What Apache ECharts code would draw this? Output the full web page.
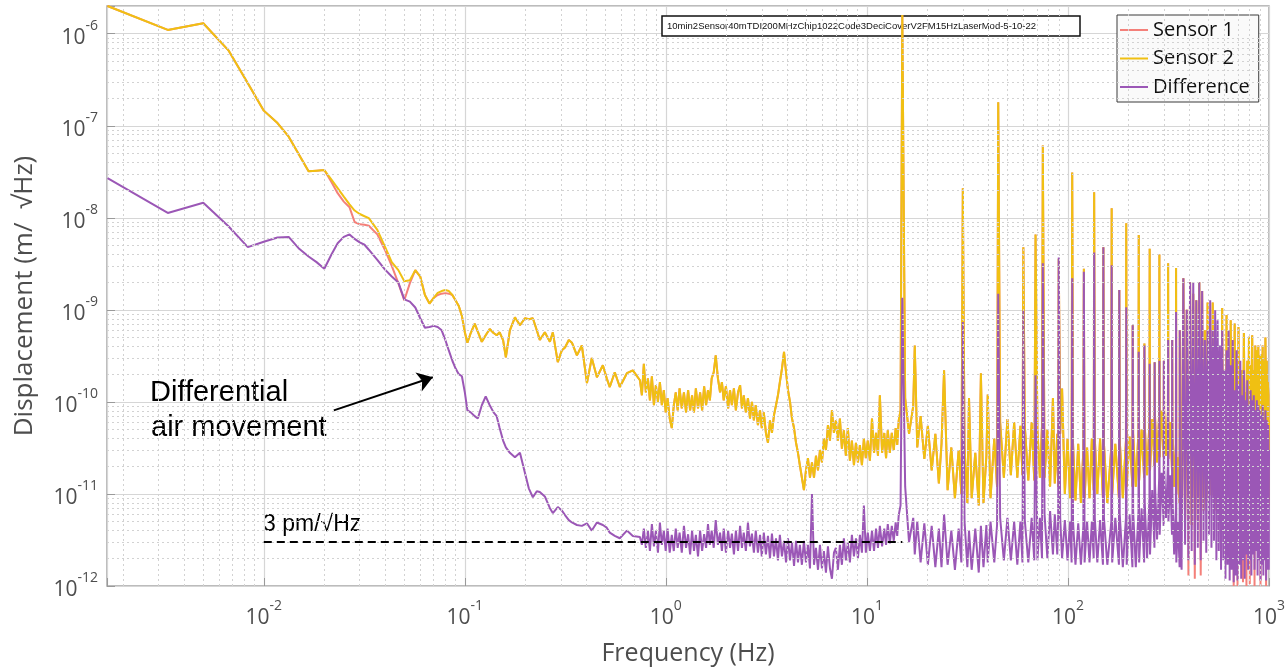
<!DOCTYPE html>
<html lang="en">
<head>
<meta charset="UTF-8">
<title>sensor displacement spectra</title>
<style>
	html, body { margin: 0; padding: 0; background: #fff; }
	#chart { width: 1288px; height: 671px; }
</style>
</head>
<body>
<div id="chart"></div>
<script src="https://cdn.jsdelivr.net/npm/echarts@6/dist/echarts.min.js"></script>
<script>
// frequency bins (Hz), shared by all three traces
var freq = [
	0.00167, 0.00333, 0.005, 0.00667, 0.00833, 0.01, 0.0117, 0.0133, 0.015, 0.0167, 0.0183, 0.02,
	0.0217, 0.0233, 0.025, 0.0267, 0.0283, 0.03, 0.0317, 0.0333, 0.0367, 0.04,
	0.0433, 0.0467, 0.05, 0.0533, 0.0567, 0.06, 0.0633, 0.0667, 0.07, 0.0733,
	0.0767, 0.08, 0.0833, 0.0867, 0.09, 0.0933, 0.0967, 0.1, 0.103,
	0.107, 0.112, 0.116, 0.1215, 0.127, 0.133, 0.139, 0.144, 0.149, 0.155,
	0.16, 0.1675, 0.1775, 0.188, 0.199, 0.208, 0.218, 0.228, 0.236, 0.25,
	0.265, 0.274, 0.29, 0.304, 0.315, 0.329, 0.341, 0.361, 0.382, 0.405,
	0.428, 0.454, 0.486, 0.508, 0.526, 0.557, 0.59, 0.64, 0.685, 0.743,
	0.76, 0.777, 0.795, 0.814, 0.833, 0.852, 0.872, 0.892, 0.913, 0.934,
	0.955, 0.977, 0.998, 1.02, 1.045, 1.07, 1.095, 1.12, 1.145, 1.17,
	1.2, 1.23, 1.26, 1.29, 1.32, 1.35, 1.38, 1.41, 1.445, 1.48,
	1.515, 1.55, 1.585, 1.62, 1.655, 1.69, 1.73, 1.77, 1.815, 1.86,
	1.9, 1.94, 1.99, 2.04, 2.085, 2.13, 2.18, 2.23, 2.285, 2.34,
	2.39, 2.44, 2.5, 2.56, 2.62, 2.68, 2.74, 2.8, 2.87, 2.94,
	3.0, 3.07, 3.145, 3.22, 3.295, 3.37, 3.45, 3.53, 3.61, 3.69,
	3.78, 3.87, 3.96, 4.05, 4.145, 4.24, 4.34, 4.44, 4.54, 4.64,
	4.75, 4.86, 4.975, 5.09, 5.21, 5.33, 5.455, 5.58, 5.71, 5.84,
	5.975, 6.11, 6.255, 6.4, 6.55, 6.7, 6.855, 7.01, 7.175, 7.34,
	7.51, 7.68, 7.86, 8.04, 8.23, 8.42, 8.62, 8.82, 9.025, 9.23,
	9.445, 9.66, 9.88, 10.1, 10.35, 10.6, 10.85, 11.1, 11.35, 11.6,
	11.9, 12.2, 12.45, 12.7, 13.0, 13.3, 13.6, 13.9, 14.15, 14.4,
	14.7,
	15, 15.5, 16.2, 17, 17.3, 17.8, 18.5, 19.3, 20.1, 21,
	21.9, 22.8, 23.5, 24.2, 25.2, 26.3, 27.4, 28.6, 29.5, 30,
	30.6, 31.6, 32.2, 33.2, 34.6, 36, 36.9, 38, 39.3, 39.9,
	41.2, 43, 44.4, 45, 46, 48, 50, 52, 54, 56,
	58, 59.4, 60, 61, 63.5, 66, 68, 69, 70.5, 72.5,
	74.3, 75, 76.5, 79, 81.5, 84.2, 86, 88.5, 89.4, 90,
	91.5, 93.5, 96.5, 99.5, 102.5, 104.3, 105, 106, 109, 112.5,
	116, 119.3, 120, 121, 124.5, 128, 131.5, 134.3, 135, 136,
	140, 144.5, 149.3, 150, 151, 157, 164.3, 165, 166, 172,
	179.3, 180, 181, 187.5, 194.3, 195, 196, 202.5, 209.3, 210,
	211, 217.5, 224.3, 225, 226, 232.5, 239.3, 240, 241, 247.5,
	254.3, 255, 256, 262.5, 269.3, 270, 271, 277.5, 284.3, 285,
	286, 292.5, 299.3, 300, 301, 307.5, 314.3, 315, 316, 322.5,
	329.3, 330, 331, 337.5, 344.3, 345, 346, 352.5, 359.3, 360,
	361, 367.5,
	375, 378.75, 382.5, 386.25, 390, 393.75, 397.5, 401.25,
	405, 408.75, 412.5, 416.25, 420, 423.75, 427.5, 431.25,
	435, 438.75, 442.5, 446.25, 450, 453.75, 457.5, 461.25,
	465, 468.75, 472.5, 476.25, 480, 483.75, 487.5, 491.25,
	495, 498.75, 502.5, 506.25, 510, 513.75, 517.5, 521.25,
	525, 528.75, 532.5, 536.25, 540, 543.75, 547.5, 551.25,
	555, 558.75, 562.5, 566.25, 570, 573.75, 577.5, 581.25,
	585, 588.75, 592.5, 596.25, 600, 603.75, 607.5, 611.25,
	615, 618.75, 622.5, 626.25, 630, 633.75, 637.5, 641.25,
	645, 648.75, 652.5, 656.25, 660, 663.75, 667.5, 671.25,
	675, 678.75, 682.5, 686.25, 690, 693.75, 697.5, 701.25,
	705, 708.75, 712.5, 716.25, 720, 723.75, 727.5, 731.25,
	735, 738.75, 742.5, 746.25, 750, 753.75, 757.5, 761.25,
	765, 768.75, 772.5, 776.25, 780, 783.75, 787.5, 791.25,
	795, 798.75, 802.5, 806.25, 810, 813.75, 817.5, 821.25,
	825, 828.75, 832.5, 836.25, 840, 843.75, 847.5, 851.25,
	855, 858.75, 862.5, 866.25, 870, 873.75, 877.5, 881.25,
	885, 888.75, 892.5, 896.25, 900, 903.75, 907.5, 911.25,
	915, 918.75, 922.5, 926.25, 930, 933.75, 937.5, 941.25,
	945, 948.75, 952.5, 956.25, 960, 963.75, 967.5, 971.25,
	975, 978.75, 982.5, 986.25, 990, 993.75, 997.5, 1000
];

// Sensor 2 amplitude (m/sqrt(Hz))
var sensor2 = [
	2.0e-6, 1.1e-6, 1.3e-6, 6.6e-7, 2.9e-7, 1.46e-7, 1.07e-7, 7.6e-8, 4.8e-8, 3.2e-8, 3.25e-8, 3.3e-8,
	2.6e-8, 2.1e-8, 1.7e-8, 1.4e-8, 1.2e-8, 1.1e-8, 1.04e-8, 9.9e-9, 7.4e-9, 4.9e-9,
	3.3e-9, 2.7e-9, 2.05e-9, 2.1e-9, 2.7e-9, 2.3e-9, 1.45e-9, 1.17e-9, 1.35e-9, 1.53e-9,
	1.6e-9, 1.64e-9, 1.6e-9, 1.45e-9, 1.26e-9, 1.1e-9, 8.6e-10, 5.7e-10, 4.4e-10,
	5.6e-10, 7.1e-10, 5.8e-10, 4.5e-10, 5.3e-10, 6.2e-10, 5.6e-10, 5.3e-10, 5.7e-10, 4.7e-10,
	3.05e-10, 6.0e-10, 8.3e-10, 6.8e-10, 8.1e-10, 7.9e-10, 8.1e-10, 6.0e-10, 4.7e-10, 5.7e-10,
	4.5e-10, 5.7e-10, 2.7e-10, 3.65e-10, 3.9e-10, 4.7e-10, 4.4e-10, 3.2e-10, 4.1e-10, 1.6e-10,
	3.0e-10, 1.85e-10, 2.5e-10, 1.8e-10, 1.45e-10, 2.1e-10, 1.45e-10, 2.05e-10, 2.2e-10, 1.72e-10,
	1.18e-10, 2.6e-10, 1.27e-10, 1.8e-10, 1.04e-10, 1.9e-10, 9.2e-11, 1.52e-10, 1.0e-10, 1.64e-10,
	9.2e-11, 1.34e-10, 7.7e-11, 1.1e-10, 6.6e-11, 5.2e-11, 9.2e-11, 1.27e-10, 8.1e-11, 1.4e-10,
	8.5e-11, 1.27e-10, 7.7e-11, 1.34e-10, 8.1e-11, 1.18e-10, 7.7e-11, 1.4e-10, 8.5e-11, 1.27e-10,
	8.1e-11, 1.48e-10, 9.2e-11, 1.34e-10, 1.04e-10, 1.8e-10, 2.1e-10, 3.2e-10, 1.8e-10, 1.27e-10,
	1.64e-10, 1.04e-10, 1.48e-10, 8.5e-11, 1.34e-10, 9.2e-11, 1.4e-10, 8.1e-11, 1.27e-10, 1.52e-10,
	8.5e-11, 1.18e-10, 7.7e-11, 1.1e-10, 6.6e-11, 1.0e-10, 6.3e-11, 9.2e-11, 5.6e-11, 8.1e-11,
	5.2e-11, 7.7e-11, 4.6e-11, 3.6e-11, 6.3e-11, 4.6e-11, 7.2e-11, 9.2e-11, 1.18e-10, 1.64e-10,
	2.3e-10, 3.5e-10, 2.1e-10, 1.34e-10, 1.0e-10, 6.6e-11, 5.2e-11, 3.6e-11, 2.8e-11, 2.05e-11,
	1.5e-11, 1.1e-11, 1.8e-11, 2.45e-11, 1.5e-11, 2.2e-11, 1.5e-11, 2.6e-11, 1.8e-11, 3.0e-11,
	2.2e-11, 4.0e-11, 3.0e-11, 5.6e-11, 3.8e-11, 8.1e-11, 4.6e-11, 6.3e-11, 3.8e-11, 6.6e-11,
	3.1e-11, 4.9e-11, 2.6e-11, 5.2e-11, 2.3e-11, 3.8e-11, 2.05e-11, 3.6e-11, 2.2e-11, 3.4e-11,
	2.05e-11, 4.0e-11, 2.45e-11, 3.8e-11, 2.3e-11, 6.6e-11, 2.8e-11, 4.6e-11, 2.6e-11, 1.18e-10,
	2.8e-11, 4.6e-11, 2.45e-11, 4.9e-11, 2.8e-11, 4.6e-11, 3.0e-11, 5.2e-11, 3.4e-11, 6.3e-11,
	8.1e-11,
	1.6e-6, 1.1e-10, 4.5e-11, 9e-11, 4.1e-10, 3.2e-11, 7e-11, 2.4e-11, 5.5e-11, 1.8e-11,
	4.5e-11, 1.3e-11, 3.5e-11, 2.2e-10, 1.1e-11, 3.2e-11, 9e-12, 3.0e-11, 1.0e-11, 2.1e-8,
	3.2e-11, 8e-12, 1.1e-10, 9e-12, 2.8e-11, 7.5e-12, 2.05e-10, 8e-12, 2.6e-11, 1.2e-10,
	9e-12, 4.0e-11, 1.2e-11, 1.8e-7, 6e-11, 1.5e-11, 6.5e-11, 1.6e-11, 6e-11, 1.5e-11,
	5.5e-11, 1.6e-11, 4.8e-9, 5.5e-11, 1.4e-11, 6e-11, 1.4e-11, 6.6e-9, 5e-11, 1.5e-11,
	5.5e-11, 6.1e-8, 1.5e-11, 5e-11, 1.2e-11, 1.1e-10, 1.3e-11, 4.5e-11, 1.2e-11, 3.6e-9,
	4.5e-11, 1.4e-10, 1.0e-11, 4e-11, 9e-12, 3.5e-11, 3.1e-8, 3.5e-11, 8.5e-12, 3.5e-11,
	8e-12, 3.0e-11, 2.8e-9, 9e-12, 3.2e-11, 9e-12, 4.0e-11, 1.1e-11, 1.9e-8, 4.0e-11,
	1.0e-11, 4.0e-11, 9e-12, 4.8e-9, 3.5e-11, 8e-12, 3.2e-11, 1.27e-8, 1.0e-11, 3.5e-11,
	9e-12, 1.64e-9, 3.8e-11, 9e-12, 3.8e-11, 8.7e-9, 1.2e-11, 4.2e-11, 1.2e-11, 6.8e-10,
	4.5e-11, 1.2e-11, 4.8e-11, 6.5e-9, 1.4e-11, 5e-11, 1.5e-11, 4.3e-10, 5.5e-11, 1.6e-11,
	6e-11, 4.6e-9, 1.8e-11, 6.5e-11, 2.0e-11, 2.7e-10, 7e-11, 2.2e-11, 7.5e-11, 4.0e-9,
	2.5e-11, 8e-11, 2.5e-11, 2.8e-10, 8e-11, 2.6e-11, 8e-11, 3.2e-9, 2.4e-11, 6e-11,
	1.8e-11, 4.7e-10, 4.5e-11, 1.2e-11, 3.5e-11, 2.85e-9, 1.0e-11, 2.5e-11, 8e-12, 6.0e-10,
	2.0e-11, 6e-12,
	2.2e-9, 3.8e-11, 5.2e-12, 3.0e-11, 1.0e-9, 3.8e-11, 5.9e-12, 3.0e-11,
	2.0e-9, 3.8e-11, 4.6e-12, 3.0e-11, 1.5e-9, 3.8e-11, 6.6e-12, 3.0e-11,
	1.27e-9, 3.8e-11, 5.2e-12, 3.0e-11, 2.0e-9, 3.8e-11, 7.5e-12, 3.0e-11,
	1.6e-9, 3.8e-11, 6.6e-12, 3.0e-11, 6.0e-10, 3.8e-11, 8.5e-12, 3.0e-11,
	1.2e-9, 3.8e-11, 7.5e-12, 3.0e-11, 2.8e-10, 3.8e-11, 9.7e-12, 3.0e-11,
	1.2e-9, 3.8e-11, 8.5e-12, 3.0e-11, 3.65e-10, 3.8e-11, 6.6e-12, 3.0e-11,
	1.72e-10, 3.8e-11, 7.5e-12, 3.0e-11, 2.8e-10, 3.8e-11, 5.2e-12, 3.0e-11,
	1.05e-9, 3.8e-11, 5.9e-12, 3.0e-11, 1.72e-10, 3.8e-11, 4.0e-12, 3.0e-11,
	8.8e-10, 3.8e-11, 5.2e-12, 3.0e-11, 1.34e-10, 3.8e-11, 3.6e-12, 3.0e-11,
	7.7e-10, 3.8e-11, 4.6e-12, 3.0e-11, 2.2e-10, 1.18e-10, 3.1e-12, 1.52e-10,
	7.1e-10, 1.04e-10, 4.0e-12, 1.42e-10, 1.72e-10, 1.34e-10, 2.8e-12, 9.9e-11,
	6.5e-10, 1.52e-10, 5.2e-12, 1.1e-10, 1.34e-10, 1.18e-10, 4.0e-12, 1.72e-10,
	2.2e-10, 1.42e-10, 6.6e-12, 1.04e-10, 5.6e-10, 1.8e-10, 4.6e-12, 1.27e-10,
	1.18e-10, 1.18e-10, 7.5e-12, 1.52e-10, 2.8e-10, 1.64e-10, 5.2e-12, 1.1e-10,
	5.1e-10, 1.34e-10, 6.6e-12, 1.8e-10, 2.5e-10, 1.04e-10, 4.6e-12, 1.52e-10,
	5.3e-10, 1.72e-10, 8.5e-12, 1.18e-10, 2.2e-10, 1.27e-10, 5.9e-12, 1.64e-10,
	4.1e-10, 1.52e-10, 8.5e-12, 1.1e-10, 3.65e-10, 1.8e-10, 6.6e-12, 1.34e-10,
	4.1e-10, 1.18e-10, 9.7e-12, 1.72e-10, 3.2e-10, 1.52e-10, 7.5e-12, 1.1e-10,
	3.3e-10, 1.72e-10, 9.7e-12, 1.27e-10, 4.1e-10, 1.18e-10, 6.6e-12, 1.8e-10,
	2.8e-10, 1.42e-10, 8.5e-12, 1.04e-10, 5.0e-10, 1.95e-10, 5.2e-12, 1.34e-10,
	2.8e-10, 1.27e-10, 7.5e-12, 1.64e-10, 1.72e-10, 1.18e-10, 7.5e-12, 6.3e-11
];

// Difference amplitude (m/sqrt(Hz))
var diff = [
	2.7e-8, 1.13e-8, 1.46e-8, 8.1e-9, 4.8e-9, 5.5e-9, 6.1e-9, 6.2e-9, 4.6e-9, 3.8e-9, 3.3e-9, 2.8e-9,
	4.0e-9, 5.3e-9, 6.2e-9, 6.6e-9, 5.9e-9, 5.4e-9, 5.1e-9, 4.5e-9, 3.5e-9, 2.75e-9,
	2.3e-9, 1.98e-9, 1.3e-9, 1.23e-9, 1.06e-9, 8.1e-10, 6.4e-10, 6.5e-10, 6.7e-10, 6.5e-10,
	6.0e-10, 4.7e-10, 3.6e-10, 2.8e-10, 2.3e-10, 2.0e-10, 1.9e-10, 1.27e-10, 8.1e-11,
	7.7e-11, 7.0e-11, 6.6e-11, 9.2e-11, 1.15e-10, 9.2e-11, 7.7e-11, 7.0e-11, 5.2e-11, 3.8e-11,
	3.2e-11, 2.8e-11, 2.5e-11, 2.8e-11, 1.7e-11, 1.15e-11, 9.2e-12, 1.07e-11, 1.05e-11, 9.4e-12,
	7.0e-12, 6.2e-12, 7.2e-12, 6.6e-12, 5.9e-12, 5.2e-12, 4.9e-12, 4.6e-12, 4.5e-12, 4.8e-12,
	4.0e-12, 4.9e-12, 4.6e-12, 4.3e-12, 3.8e-12, 3.5e-12, 3.3e-12, 4.0e-12, 3.5e-12, 3.4e-12,
	2.8e-12, 4.2e-12, 2.6e-12, 4.0e-12, 2.4e-12, 4.7e-12, 2.7e-12, 4.0e-12, 2.3e-12, 4.9e-12,
	2.8e-12, 4.0e-12, 2.4e-12, 4.2e-12, 2.3e-12, 3.6e-12, 2.4e-12, 4.2e-12, 2.6e-12, 3.8e-12,
	2.3e-12, 4.5e-12, 2.6e-12, 3.65e-12, 2.2e-12, 4.0e-12, 2.4e-12, 3.6e-12, 2.1e-12, 4.0e-12,
	2.4e-12, 3.65e-12, 2.6e-12, 4.7e-12, 2.8e-12, 4.0e-12, 2.6e-12, 5.2e-12, 2.8e-12, 3.8e-12,
	2.4e-12, 4.2e-12, 2.3e-12, 4.0e-12, 2.6e-12, 3.7e-12, 2.2e-12, 4.0e-12, 2.4e-12, 4.5e-12,
	2.6e-12, 3.8e-12, 2.4e-12, 4.9e-12, 2.7e-12, 3.7e-12, 2.3e-12, 4.0e-12, 2.3e-12, 3.6e-12,
	2.1e-12, 3.8e-12, 2.2e-12, 3.5e-12, 2.0e-12, 3.7e-12, 2.1e-12, 3.3e-12, 1.9e-12, 3.6e-12,
	2.1e-12, 3.1e-12, 1.8e-12, 3.3e-12, 1.9e-12, 3.0e-12, 1.65e-12, 3.1e-12, 1.8e-12, 2.8e-12,
	1.7e-12, 3.1e-12, 1.8e-12, 2.8e-12, 1.55e-12, 1.0e-11, 1.7e-12, 2.6e-12, 1.5e-12, 2.8e-12,
	1.55e-12, 2.4e-12, 1.4e-12, 2.7e-12, 1.55e-12, 1.2e-12, 2.3e-12, 2.6e-12, 1.5e-12, 2.8e-12,
	1.7e-12, 3.3e-12, 1.9e-12, 3.0e-12, 1.8e-12, 3.6e-12, 2.1e-12, 3.3e-12, 2.0e-12, 3.6e-12,
	2.3e-12, 7.5e-12, 2.3e-12, 3.8e-12, 2.4e-12, 4.0e-12, 2.4e-12, 4.2e-12, 2.6e-12, 4.5e-12,
	2.7e-12, 4.2e-12, 2.8e-12, 4.7e-12, 2.9e-12, 4.5e-12, 3.1e-12, 4.9e-12, 3.5e-12, 5.9e-12,
	7.5e-12,
	1.35e-9, 1.2e-11, 3.0e-12, 5.5e-12, 2.2e-12, 5.0e-12, 1.8e-12, 4.8e-12, 1.7e-12, 4.5e-12,
	1.6e-12, 4.2e-12, 1.6e-12, 6.0e-12, 1.7e-12, 4.0e-12, 1.5e-12, 4.2e-12, 1.8e-12, 7.4e-10,
	5.0e-12, 1.6e-12, 4.0e-12, 1.5e-12, 4.2e-12, 1.4e-12, 4.5e-12, 1.6e-12, 4.6e-12, 1.8e-12,
	5.0e-12, 1.8e-12, 4.6e-12, 1.5e-9, 5.5e-12, 1.9e-12, 5.5e-12, 1.9e-12, 5.0e-12, 1.7e-12,
	5.0e-12, 1.8e-12, 9.8e-10, 5.2e-12, 1.8e-12, 5.5e-12, 1.9e-12, 1.95e-10, 1.9e-12, 5.5e-12,
	2.0e-12, 3.2e-9, 6.0e-12, 2.0e-12, 6.5e-12, 2.2e-12, 6.0e-12, 2.2e-12, 5.5e-12, 3.7e-9,
	5.5e-12, 2.0e-12, 5.2e-12, 1.9e-12, 5.0e-12, 1.8e-12, 2.2e-9, 5.0e-12, 1.7e-12, 4.8e-12,
	1.7e-12, 4.5e-12, 2.6e-9, 1.8e-12, 5.0e-12, 1.8e-12, 5.0e-12, 2.0e-12, 4.2e-9, 5.5e-12,
	1.8e-12, 5.2e-12, 1.7e-12, 4.8e-9, 5.5e-12, 1.7e-12, 5.0e-12, 3.06e-9, 1.8e-12, 5.5e-12,
	1.7e-12, 1.64e-9, 6.0e-12, 1.6e-12, 5.5e-12, 1.07e-9, 1.7e-12, 6.0e-12, 1.6e-12, 6.8e-10,
	6.5e-12, 1.6e-12, 6.5e-12, 3.5e-10, 1.8e-12, 7.0e-12, 1.8e-12, 4.1e-10, 8.0e-12, 2.0e-12,
	9.0e-12, 2.6e-10, 2.2e-12, 1.1e-11, 2.6e-12, 2.7e-10, 1.3e-11, 3.2e-12, 1.5e-11, 2.8e-10,
	3.6e-12, 1.7e-11, 4.5e-12, 2.8e-10, 1.9e-11, 5.5e-12, 2.1e-11, 4.7e-10, 5.0e-12, 1.6e-11,
	3.6e-12, 4.7e-10, 1.0e-11, 2.2e-12, 7.0e-12, 9.5e-10, 1.8e-12, 5.0e-12, 1.6e-12, 6.0e-10,
	4.5e-12, 1.5e-12,
	2.2e-9, 6.3e-11, 2.8e-12, 4.9e-11, 1.0e-9, 8.1e-11, 1.9e-12, 5.6e-11,
	2.0e-9, 7.2e-11, 2.4e-12, 9.2e-11, 2.0e-9, 6.3e-11, 1.7e-12, 4.9e-11,
	1.27e-9, 8.1e-11, 2.6e-12, 6.6e-11, 2.0e-9, 5.6e-11, 1.9e-12, 7.7e-11,
	1.6e-9, 9.2e-11, 3.1e-12, 6.3e-11, 4.7e-10, 1.1e-10, 2.3e-12, 8.1e-11,
	6.0e-10, 9.9e-11, 3.6e-12, 1.27e-10, 1.27e-9, 1.18e-10, 2.6e-12, 9.2e-11,
	6.0e-10, 1.04e-10, 3.1e-12, 1.42e-10, 9.9e-10, 1.27e-10, 1.9e-12, 9.9e-11,
	7.7e-10, 1.1e-10, 2.4e-12, 1.52e-10, 4.1e-10, 9.2e-11, 1.5e-12, 1.18e-10,
	6.0e-10, 1.34e-10, 1.9e-12, 1.04e-10, 2.2e-10, 1.1e-10, 1.2e-12, 8.5e-11,
	3.65e-10, 1.18e-10, 1.7e-12, 9.9e-11, 6.0e-10, 9.9e-11, 1.15e-12, 1.18e-10,
	2.5e-10, 8.1e-11, 1.5e-12, 1.04e-10, 4.7e-10, 1.1e-10, 1.1e-12, 7.7e-11,
	1.34e-10, 9.2e-11, 1.3e-12, 1.04e-10, 3.65e-10, 7.7e-11, 1.15e-12, 9.9e-11,
	1.52e-10, 1.04e-10, 1.7e-12, 7.2e-11, 2.8e-10, 8.5e-11, 1.2e-12, 1.1e-10,
	1.18e-10, 7.2e-11, 1.9e-12, 9.2e-11, 2.2e-10, 9.2e-11, 1.2e-12, 6.6e-11,
	1.04e-10, 6.6e-11, 2.2e-12, 8.1e-11, 1.72e-10, 7.7e-11, 1.5e-12, 6.0e-11,
	9.2e-11, 6.3e-11, 1.9e-12, 7.2e-11, 1.34e-10, 5.6e-11, 1.3e-12, 6.6e-11,
	1.04e-10, 6.6e-11, 2.2e-12, 5.2e-11, 1.18e-10, 5.2e-11, 1.5e-12, 6.3e-11,
	8.1e-11, 6.0e-11, 2.4e-12, 4.6e-11, 1.04e-10, 4.9e-11, 1.3e-12, 5.6e-11,
	9.2e-11, 5.6e-11, 1.9e-12, 4.35e-11, 8.1e-11, 4.6e-11, 1.15e-12, 5.2e-11,
	7.2e-11, 5.2e-11, 1.7e-12, 4.0e-11, 9.2e-11, 4.35e-11, 1.3e-12, 4.9e-11,
	6.3e-11, 4.9e-11, 1.9e-12, 3.8e-11, 8.1e-11, 4.0e-11, 1.15e-12, 4.6e-11,
	6.3e-11, 4.35e-11, 1.5e-12, 3.4e-11, 5.6e-11, 3.8e-11, 1.5e-12, 3.0e-11
];

// Sensor 1 follows Sensor 2 except at these bins [Hz, m/sqrt(Hz)]
var sensor1Diffs = [
	[0.0217, 2.45e-8], [0.0233, 1.85e-8], [0.025, 1.5e-8], [0.0267, 1.3e-8], [0.0283, 9.0e-9],
	[0.03, 8.5e-9], [0.0317, 8.4e-9], [0.0333, 8.2e-9], [0.0367, 6.6e-9], [0.04, 4.5e-9],
	[0.0433, 3.0e-9], [0.0467, 1.95e-9], [0.05, 1.27e-9], [0.0533, 1.95e-9],
	[0.0733, 1.45e-9], [0.0767, 1.5e-9], [0.08, 1.52e-9], [0.0833, 1.5e-9],
	[397.5, 1.3e-12], [427.5, 1.2e-12], [457.5, 1.3e-12], [667.5, 1.0e-12], [697.5, 1.0e-12],
	[742.5, 1.1e-12], [772.5, 1.0e-12], [802.5, 1.05e-12], [847.5, 1.0e-12], [907.5, 1.0e-12],
	[967.5, 1.0e-12]
];

// annotations
var floorLine = [[0.01, 3e-12], [15, 3e-12]];
var arrowFrom = [0.0223, 8.1e-11];
var arrowTo = [0.0693, 1.85e-10];

// axis decades
var xDecades = [-2, -1, 0, 1, 2, 3];
var yDecades = [-12, -11, -10, -9, -8, -7, -6];
var minorSteps = [2, 3, 4, 5, 6, 7, 8, 9];

if (sensor2.length !== freq.length || diff.length !== freq.length) {
	throw new Error('length mismatch ' + freq.length + ' ' + sensor2.length + ' ' + diff.length);
}

var s1Map = {};
sensor1Diffs.forEach(function (p) { s1Map[p[0]] = p[1]; });

function toPairs(vals, over) {
	return freq.map(function (f, i) {
		return [f, (over && over[f] !== undefined) ? over[f] : vals[i]];
	});
}

var xMin = 0.00166, xMax = 1000, yMin = 1e-12, yMax = 2e-6;

// dotted minor grid (2..9 of every decade), as full-width segments
var minorLines = [];
[-3, -2, -1, 0, 1, 2].forEach(function (d) {
	minorSteps.forEach(function (m) {
		var v = m * Math.pow(10, d);
		if (v > xMin && v < xMax) minorLines.push([{ coord: [v, yMin] }, { coord: [v, yMax] }]);
	});
});
[-12, -11, -10, -9, -8, -7, -6].forEach(function (d) {
	minorSteps.forEach(function (m) {
		var v = m * Math.pow(10, d);
		if (v > yMin && v < yMax) minorLines.push([{ coord: [xMin, v] }, { coord: [xMax, v] }]);
	});
});

var labelFont = "'Open Sans', 'Noto Sans', sans-serif";
var axisGray = '#4d4d4d';

function powLabel(decades) {
	return function (v) {
		var e = Math.log10(v);
		var r = Math.round(e);
		if (Math.abs(e - r) > 1e-6 || decades.indexOf(r) < 0) return '';
		return '{b|10}{s|' + r + '}';
	};
}

var richPow = {
	b: { fontSize: 21, lineHeight: 38, color: axisGray, fontFamily: labelFont },
	s: { fontSize: 14, lineHeight: 18, verticalAlign: 'top', color: axisGray, fontFamily: labelFont }
};

var chart = echarts.init(document.getElementById('chart'));

var option = {
	animation: false,
	backgroundColor: '#ffffff',
	title: {
		text: '10min2Sensor40mTDI200MHzChip1022Code3DeciCoverV2FM15HzLaserMod-5-10-22',
		left: 662,
		top: 16,
		z: 1,
		padding: [5, 44, 5, 5],
		borderColor: '#111',
		borderWidth: 1.5,
		backgroundColor: '#fff',
		textStyle: { fontSize: 9.5, fontWeight: 'normal', color: '#111', fontFamily: "'Liberation Sans', Arial, sans-serif" }
	},
	legend: {
		data: ['Sensor 1', 'Sensor 2', 'Difference'],
		orient: 'vertical',
		left: 1117,
		top: 15,
		padding: [5, 9, 5, 3],
		itemGap: 8.5,
		itemWidth: 28,
		itemHeight: 2,
		icon: 'rect',
		backgroundColor: '#fafafa',
		borderColor: '#3a3a3a',
		borderWidth: 1,
		borderRadius: 0,
		textStyle: { fontSize: 20, color: '#111', fontFamily: labelFont }
	},
	grid: {
		left: 107,
		right: 19,
		top: 6,
		bottom: 85,
		show: true,
		borderColor: '#a6a6a6',
		borderWidth: 1.5
	},
	xAxis: {
		type: 'log',
		min: xMin,
		max: xMax,
		name: 'Frequency (Hz)',
		nameLocation: 'middle',
		nameGap: 55,
		nameTextStyle: { fontSize: 25, color: axisGray, fontFamily: labelFont },
		axisLine: { show: false },
		axisTick: { show: true, inside: true, length: 8, lineStyle: { color: '#9a9a9a' } },
		axisLabel: { formatter: powLabel(xDecades), margin: 13, rich: richPow },
		splitLine: { show: true, lineStyle: { color: '#d6d6d6', width: 1.2 } }
	},
	yAxis: {
		type: 'log',
		min: yMin,
		max: yMax,
		name: 'Displacement (m/  \u221AHz)',
		nameLocation: 'middle',
		nameGap: 69,
		nameTextStyle: { fontSize: 26, color: axisGray, fontFamily: labelFont },
		axisLine: { show: false },
		axisTick: { show: true, inside: true, length: 8, lineStyle: { color: '#9a9a9a' } },
		axisLabel: { formatter: powLabel(yDecades), margin: 9, padding: [8, 0, 0, 0], rich: richPow },
		splitLine: { show: true, lineStyle: { color: '#d6d6d6', width: 1.2 } }
	},
	graphic: [
		{ type: 'text', x: 150, y: 393, style: { text: 'Differential', font: '29px "Liberation Sans", Arial, sans-serif', fill: '#000', verticalAlign: 'middle' } },
		{ type: 'text', x: 151, y: 428, style: { text: 'air movement', font: '29px "Liberation Sans", Arial, sans-serif', fill: '#000', verticalAlign: 'middle' } },
		{ type: 'text', x: 263, y: 525, style: { text: '3 pm/\u221AHz', font: '23px "Liberation Sans", Arial, sans-serif', fill: '#000', verticalAlign: 'middle' } }
	],
	series: [
		{
			name: 'minor grid',
			type: 'line',
			data: [],
			silent: true,
			z: 0,
			markLine: {
				silent: true,
				symbol: 'none',
				label: { show: false },
				lineStyle: { color: '#d2d2d2', width: 1, type: [2, 3] },
				data: minorLines
			}
		},
		{
			name: 'Sensor 1',
			type: 'line',
			data: toPairs(sensor2, s1Map),
			symbol: 'none',
			silent: true,
			z: 2,
			color: '#f4807a',
			lineStyle: { width: 2, color: '#f4807a' }
		},
		{
			name: 'Sensor 2',
			type: 'line',
			data: toPairs(sensor2),
			symbol: 'none',
			silent: true,
			z: 2,
			color: '#f0c012',
			lineStyle: { width: 2, color: '#f0c012' }
		},
		{
			name: 'Difference',
			type: 'line',
			data: toPairs(diff),
			symbol: 'none',
			silent: true,
			z: 2,
			color: '#9b57b6',
			lineStyle: { width: 2, color: '#9b57b6' }
		},
		{
			name: 'floor',
			type: 'line',
			data: floorLine,
			symbol: 'none',
			silent: true,
			z: 5,
			lineStyle: { color: '#000', width: 2, type: [8, 5] },
			markLine: {
				silent: true,
				symbol: ['none', 'arrow'],
				symbolSize: 15,
				label: { show: false },
				lineStyle: { color: '#000', width: 2, type: 'solid' },
				data: [[{ coord: arrowFrom }, { coord: arrowTo }]]
			}
		}
	]
};

chart.setOption(option);
</script>
</body>
</html>
